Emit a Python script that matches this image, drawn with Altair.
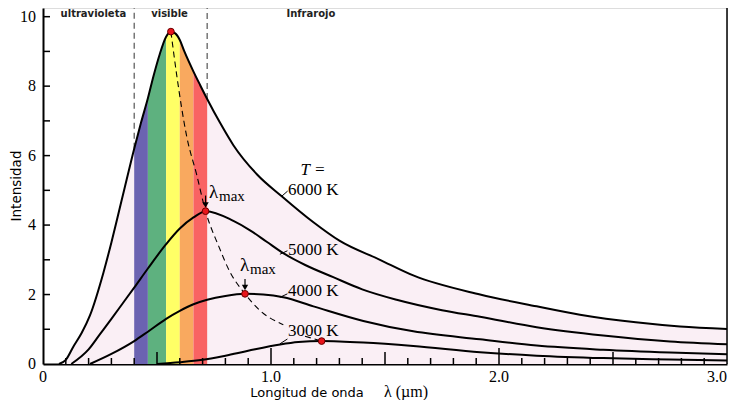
import altair as alt
import pandas as pd

# ---------------- data ----------------
x6000 = [0.07, 0.10, 0.133, 0.17, 0.206, 0.265, 0.30, 0.35, 0.40, 0.43, 0.46, 0.485, 0.512, 0.54, 0.56, 0.58,
         0.60, 0.62, 0.66, 0.69, 0.72, 0.776, 0.835, 0.94, 1.047, 1.186, 1.30, 1.478, 1.624, 1.917, 2.165,
         2.355, 2.60, 2.794, 3.0]
y6000 = [0.0, 0.12, 0.50, 0.90, 1.40, 2.63, 3.50, 4.85, 6.20, 6.95, 7.65, 8.30, 8.92, 9.42, 9.57, 9.52,
         9.33, 9.00, 8.42, 8.02, 7.63, 6.95, 6.30, 5.45, 4.83, 4.08, 3.55, 3.00, 2.55, 2.00, 1.66,
         1.42, 1.20, 1.08, 1.01]

x5000 = [0.124, 0.20, 0.25, 0.30, 0.35, 0.40, 0.46, 0.54, 0.60, 0.66, 0.715, 0.835, 0.908, 0.981, 1.054,
         1.15, 1.273, 1.40, 1.551, 1.75, 1.917, 2.165, 2.457, 2.75, 3.0]
y5000 = [0.0, 0.42, 0.86, 1.30, 1.75, 2.20, 2.75, 3.45, 3.90, 4.22, 4.40, 4.12, 3.85, 3.52, 3.19,
         2.85, 2.50, 2.15, 1.85, 1.55, 1.36, 1.06, 0.82, 0.65, 0.57]

x4000 = [0.206, 0.30, 0.40, 0.46, 0.54, 0.60, 0.66, 0.72, 0.80, 0.886, 0.966, 1.054, 1.186, 1.405, 1.624,
         1.917, 2.165, 2.457, 2.75, 3.0]
y4000 = [0.0, 0.29, 0.66, 0.93, 1.30, 1.53, 1.72, 1.85, 1.96, 2.02, 2.00, 1.92, 1.66, 1.24, 0.94,
         0.71, 0.53, 0.41, 0.33, 0.28]

x3000 = [0.50, 0.60, 0.70, 0.80, 0.90, 1.04, 1.12, 1.222, 1.30, 1.405, 1.624, 1.917, 2.165, 2.457, 2.75, 3.0]
y3000 = [0.0, 0.05, 0.12, 0.24, 0.38, 0.56, 0.63, 0.66, 0.65, 0.62, 0.52, 0.34, 0.24, 0.17, 0.13, 0.10]

peak_x = [0.561, 0.713, 0.886, 1.222]
peak_y = [9.57, 4.40, 2.02, 0.66]

wien_x = [0.561, 0.586, 0.63, 0.674, 0.713, 0.77, 0.82, 0.886, 0.95, 1.054, 1.149, 1.222]
wien_y = [9.57, 8.34, 6.56, 5.45, 4.40, 3.40, 2.65, 2.02, 1.55, 1.13, 0.80, 0.66]
wien_seg = ["a", "a", "a", "a", "a", "a", "a", "a", "a", "a", "b", "b"]

band_names = ["violeta", "verde", "amarillo", "naranja", "rojo"]
band_lo = [0.40, 0.46, 0.54, 0.60, 0.66]
band_hi = [0.46, 0.54, 0.60, 0.66, 0.72]
band_colors = ["#6B63B1", "#5EB17F", "#FFFF66", "#F9A95F", "#F96363"]

region_labels = ["ultravioleta", "visible", "Infrarojo"]
region_x = [0.221, 0.555, 1.175]

limit_x = [0.40, 0.72]
limit_y = [6.20, 7.63]

temp_labels = ["6000 K", "5000 K", "4000 K", "3000 K"]
temp_label_x = [1.075, 1.075, 1.075, 1.075]
temp_label_y = [5.01, 3.28, 2.11, 0.94]
lead_x = [1.047, 1.039, 1.039, 1.039]
lead_y = [4.83, 3.16, 1.92, 0.58]
lead_x2 = [1.073, 1.072, 1.072, 1.072]
lead_y2 = [4.98, 3.26, 2.02, 0.72]

lam_x = [0.728, 0.864]
lam_y = [4.79, 2.68]
max_x = [0.772, 0.908]
max_y = [4.70, 2.58]
arrow_x = [0.713, 0.886]
arrow_top = [4.85, 2.45]
arrow_bot = [4.58, 2.20]

x_label_vals = [0, 1, 2, 3]
x_label_text = ["0", "1.0", "2.0", "3.0"]
y_label_vals = [0, 2, 4, 6, 8, 10]
y_label_text = ["0", "2", "4", "6", "8", "10"]

x_minor = [round(0.1 * i, 1) for i in range(1, 30) if i % 5 != 0]
x_half = [0.5, 1.5, 2.5]
x_major = [1.0, 2.0]
y_minor = [1, 2, 3, 4, 5, 6, 7, 8, 9, 10]

# ---------------- tables ----------------
curves = pd.concat([
    pd.DataFrame({"x": x6000, "y": y6000, "T": "6000"}),
    pd.DataFrame({"x": x5000, "y": y5000, "T": "5000"}),
    pd.DataFrame({"x": x4000, "y": y4000, "T": "4000"}),
    pd.DataFrame({"x": x3000, "y": y3000, "T": "3000"}),
])
c6000 = pd.DataFrame({"x": x6000, "y": y6000})
bands = pd.concat([
    c6000[(c6000.x >= lo - 1e-9) & (c6000.x <= hi + 1e-9)].assign(band=name)
    for name, lo, hi in zip(band_names, band_lo, band_hi)
])

W, H = 684, 356
SERIF = "Liberation Serif"
SANS = "DejaVu Sans"

xs = alt.Scale(domain=[0, 3], nice=False, zero=False)
ys = alt.Scale(domain=[0, 10.25], nice=False, zero=False)
ax_x = alt.Axis(title=None, grid=False, ticks=False, labels=False, domainColor="black", domainWidth=2)
ax_y = alt.Axis(title=None, grid=False, ticks=False, labels=False, domainColor="black", domainWidth=2)


def X(f="x"):
    return alt.X(f, type="quantitative", scale=xs, axis=ax_x)


def Y(f="y", stack=False):
    if stack:
        return alt.Y(f, type="quantitative", scale=ys, axis=ax_y, stack=None)
    return alt.Y(f, type="quantitative", scale=ys, axis=ax_y)


pink = alt.Chart(c6000).mark_area(color="#FAEFF5", interpolate="monotone").encode(x=X(), y=Y())

band_area = alt.Chart(bands).mark_area(interpolate="monotone", opacity=1).encode(
    x=X(), y=Y(stack=True),
    color=alt.Color("band:N", scale=alt.Scale(domain=band_names, range=band_colors), legend=None),
    detail="band:N",
)

limits = alt.Chart(pd.DataFrame({"x": limit_x, "y": limit_y})).mark_rule(
    color="#555555", strokeWidth=1.2, strokeDash=[6, 4]
).encode(x=X(), y=Y(), y2=alt.value(0))

lines = alt.Chart(curves).mark_line(color="black", strokeWidth=2, interpolate="monotone").encode(
    x=X(), y=Y(), detail="T:N"
)

wien = alt.Chart(pd.DataFrame({"x": wien_x, "y": wien_y, "s": wien_seg})).mark_line(
    color="black", strokeWidth=1.1, strokeDash=[6, 4], interpolate="monotone"
).encode(x=X(), y=Y(), detail="s:N")

leads = alt.Chart(pd.DataFrame({"x": lead_x, "y": lead_y, "x2": lead_x2, "y2": lead_y2})).mark_rule(
    color="black", strokeWidth=1
).encode(x=X(), y=Y(), x2="x2:Q", y2="y2:Q")

arrows = alt.Chart(pd.DataFrame({"x": arrow_x, "y": arrow_top, "y2": arrow_bot})).mark_rule(
    color="black", strokeWidth=1.2
).encode(x=X(), y=Y(), y2="y2:Q")
heads = alt.Chart(pd.DataFrame({"x": arrow_x, "y": arrow_bot})).mark_point(
    shape="triangle-down", filled=True, color="black", size=40, opacity=1
).encode(x=X(), y=Y())

dots = alt.Chart(pd.DataFrame({"x": peak_x, "y": peak_y})).mark_point(
    filled=True, fill="#E8141B", stroke="#6a0000", strokeWidth=1, size=45, opacity=1
).encode(x=X(), y=Y())

temp_text = alt.Chart(pd.DataFrame({"x": temp_label_x, "y": temp_label_y, "t": temp_labels})).mark_text(
    font=SERIF, fontSize=17, align="left", baseline="middle", color="black"
).encode(x=X(), y=Y(), text="t:N")

t_eq = alt.Chart(pd.DataFrame({"x": [1.184], "y": [5.60], "t": ["T ="]})).mark_text(
    font=SERIF, fontSize=17, fontStyle="italic", align="center", baseline="middle", color="black"
).encode(x=X(), y=Y(), text="t:N")

lam_text = alt.Chart(pd.DataFrame({"x": lam_x, "y": lam_y, "t": ["λ", "λ"]})).mark_text(
    font=SERIF, fontSize=19, align="left", baseline="alphabetic", color="black"
).encode(x=X(), y=Y(), text="t:N")
max_text = alt.Chart(pd.DataFrame({"x": max_x, "y": max_y, "t": ["max", "max"]})).mark_text(
    font=SERIF, fontSize=15, align="left", baseline="alphabetic", color="black"
).encode(x=X(), y=Y(), text="t:N")

region_text = alt.Chart(pd.DataFrame({"x": region_x, "t": region_labels})).mark_text(
    font=SANS, fontSize=10, fontWeight="bold", align="center", baseline="middle", color="#222222"
).encode(x=X(), y=alt.value(6), text="t:N")

# axis labels (serif, as in the reference)
xlab_df = pd.DataFrame({"x": x_label_vals, "t": x_label_text})
xlab_c = alt.Chart(xlab_df[xlab_df.x < 3]).mark_text(
    font=SERIF, fontSize=16, align="center", baseline="middle", color="black"
).encode(x=X(), y=alt.value(H + 13), text="t:N")
xlab_r = alt.Chart(xlab_df[xlab_df.x >= 3]).mark_text(
    font=SERIF, fontSize=16, align="right", baseline="middle", color="black"
).encode(x=X(), y=alt.value(H + 13), text="t:N")
ylab = alt.Chart(pd.DataFrame({"y": y_label_vals, "t": y_label_text})).mark_text(
    font=SERIF, fontSize=16, align="right", baseline="middle", color="black"
).encode(y=Y(), x=alt.value(-7), text="t:N")

tick_min = alt.Chart(pd.DataFrame({"x": x_minor})).mark_rule(color="black", strokeWidth=1.5).encode(
    x=X(), y=alt.value(H), y2=alt.value(H - 6))
tick_half = alt.Chart(pd.DataFrame({"x": x_half})).mark_rule(color="black", strokeWidth=1.5).encode(
    x=X(), y=alt.value(H), y2=alt.value(H - 12))
tick_maj = alt.Chart(pd.DataFrame({"x": x_major})).mark_rule(color="black", strokeWidth=1.5).encode(
    x=X(), y=alt.value(H), y2=alt.value(H - 16))
tick_y = alt.Chart(pd.DataFrame({"y": y_minor})).mark_rule(color="black", strokeWidth=1.5).encode(
    y=Y(), x=alt.value(0), x2=alt.value(7))

right_border = alt.Chart(pd.DataFrame({"x": [3.0]})).mark_rule(color="black", strokeWidth=1.5).encode(
    x=X(), y=alt.value(0), y2=alt.value(H))

y_title = alt.Chart(pd.DataFrame({"t": ["Intensidad"]})).mark_text(
    font=SANS, fontSize=13.5, angle=270, align="center", baseline="middle", color="black"
).encode(x=alt.value(-26), y=alt.value(178), text="t:N")
x_title = alt.Chart(pd.DataFrame({"t": ["Longitud de onda"]})).mark_text(
    font=SANS, fontSize=13, align="center", baseline="middle", color="black"
).encode(x=alt.value(264), y=alt.value(385), text="t:N")
x_unit = alt.Chart(pd.DataFrame({"t": ["λ  (µm)"]})).mark_text(
    font=SERIF, fontSize=16, align="left", baseline="middle", color="black"
).encode(x=alt.value(341), y=alt.value(384), text="t:N")

chart = alt.layer(
    pink, band_area, limits, lines, wien, leads, arrows, heads, dots,
    temp_text, t_eq, lam_text, max_text, region_text, xlab_c, xlab_r, ylab,
    tick_min, tick_half, tick_maj, tick_y, right_border, y_title, x_title, x_unit,
).properties(
    width=W, height=H,
    autosize=alt.AutoSizeParams(type="none"),
    padding={"left": 35, "top": 0, "right": 10, "bottom": 36},
).configure_view(stroke=None).configure(background="white")

chart.save("out.html", embed_options={"renderer": "svg", "actions": False})
